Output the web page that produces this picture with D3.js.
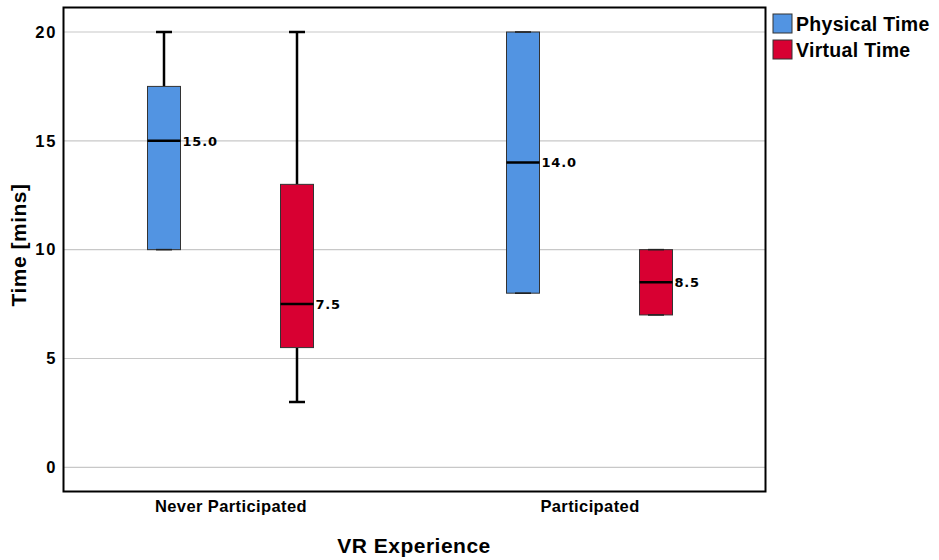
<!DOCTYPE html>
<html><head><meta charset="utf-8">
<script src="https://cdn.jsdelivr.net/npm/d3@7"></script>
<style>body{margin:0;background:#fff}svg{display:block}</style>
</head><body>
<svg id="c" width="939" height="560"></svg>
<script>
const categories = ["Never Participated", "Participated"];
const seriesNames = ["Physical Time", "Virtual Time"];
const seriesColors = ["#5294E2", "#D80032"];
// [whiskerLow, q1, median, q3, whiskerHigh] per category, per series
const physicalStats = [[10, 10, 15, 17.5, 20], [8, 8, 14, 20, 20]];
const virtualStats = [[3, 5.5, 7.5, 13, 20], [7, 7, 8.5, 10, 10]];
const yTicks = [0, 5, 10, 15, 20];
const statsBySeries = [physicalStats, virtualStats];

const svg = d3.select("#c");
const frame = {left: 63.5, right: 765.5, top: 7.5, bottom: 491.5};
const FONT = "Liberation Sans, Arial, Helvetica, sans-serif";

const y = d3.scaleLinear().domain([0, 20]).range([467.3, 32]);
const x = d3.scalePoint().domain(categories).range([230.5, 589.5]);
const xs = d3.scalePoint().domain(seriesNames).range([-66.5, 66.5]);
const boxW = 33, capW = 16;

// gridlines
svg.append("g").selectAll("line").data(yTicks).join("line")
  .attr("x1", frame.left).attr("x2", frame.right)
  .attr("y1", d => y(d)).attr("y2", d => y(d))
  .attr("stroke", "#c8c8c8").attr("stroke-width", 1.2);

// y axis labels via d3 axis
const yAxis = svg.append("g").attr("transform", `translate(${frame.left},0)`)
  .call(d3.axisLeft(y).tickValues(yTicks).tickSize(0).tickPadding(6).tickFormat(d3.format("d")));
yAxis.select(".domain").remove();
yAxis.selectAll("text").attr("font-family", FONT)
  .attr("font-weight", "bold").attr("font-size", 16.5).attr("fill", "#000").attr("letter-spacing", 2);

// x axis labels
const xAxis = svg.append("g").attr("transform", `translate(0,${frame.bottom})`)
  .call(d3.axisBottom(x).tickSize(0).tickPadding(9));
xAxis.select(".domain").remove();
xAxis.selectAll("text").attr("font-family", FONT)
  .attr("font-weight", "bold").attr("font-size", 16.5).attr("fill", "#000").attr("letter-spacing", 0.4);

// boxes
const flat = [];
categories.forEach((c, ci) => seriesNames.forEach((s, si) => {
  const st = statsBySeries[si][ci];
  flat.push({c, s, si, lo: st[0], q1: st[1], med: st[2], q3: st[3], hi: st[4]});
}));
const g = svg.append("g").selectAll("g").data(flat).join("g")
  .attr("transform", d => `translate(${x(d.c) + xs(d.s)},0)`);

g.append("line").attr("x1", 0).attr("x2", 0)
  .attr("y1", d => y(d.hi)).attr("y2", d => y(d.q3)).attr("stroke", "#000").attr("stroke-width", 2.5);
g.append("line").attr("x1", 0).attr("x2", 0)
  .attr("y1", d => y(d.q1)).attr("y2", d => y(d.lo)).attr("stroke", "#000").attr("stroke-width", 2.5);
g.append("rect").attr("x", -boxW / 2).attr("width", boxW)
  .attr("y", d => y(d.q3)).attr("height", d => y(d.q1) - y(d.q3))
  .attr("fill", d => seriesColors[d.si]).attr("stroke", "#333").attr("stroke-width", 1);
g.selectAll(".cap").data(d => [[d.lo, d.lo === d.q1], [d.hi, d.hi === d.q3]]).join("line").attr("class", "cap")
  .attr("x1", -capW / 2).attr("x2", capW / 2)
  .attr("y1", v => y(v[0])).attr("y2", v => y(v[0]))
  .attr("stroke", v => v[1] ? "#222" : "#000").attr("stroke-width", v => v[1] ? 1.6 : 2.5);
g.append("line").attr("x1", -boxW / 2).attr("x2", boxW / 2)
  .attr("y1", d => y(d.med)).attr("y2", d => y(d.med)).attr("stroke", "#000").attr("stroke-width", 2.5);
g.append("text").attr("x", boxW / 2 + 2).attr("y", d => y(d.med)).attr("dy", "0.36em")
  .attr("font-family", "DejaVu Sans, Liberation Sans, sans-serif").attr("font-weight", "bold")
  .attr("font-size", 13).attr("letter-spacing", 0.8).attr("fill", "#000")
  .text(d => d3.format(".1f")(d.med));

// frame
svg.append("rect").attr("x", frame.left).attr("y", frame.top)
  .attr("width", frame.right - frame.left).attr("height", frame.bottom - frame.top)
  .attr("fill", "none").attr("stroke", "#000").attr("stroke-width", 2);

// axis titles
svg.append("text").attr("transform", `translate(26,245) rotate(-90)`)
  .attr("text-anchor", "middle").attr("font-family", FONT)
  .attr("font-weight", "bold").attr("font-size", 21).attr("letter-spacing", 0.5)
  .attr("fill", "#000").text("Time [mins]");
svg.append("text").attr("x", 414).attr("y", 553).attr("text-anchor", "middle")
  .attr("font-family", FONT).attr("letter-spacing", 0.5)
  .attr("font-weight", "bold").attr("font-size", 21).attr("fill", "#000").text("VR Experience");

// legend
const lg = svg.append("g").attr("transform", "translate(773,14)");
const li = lg.selectAll("g").data(seriesNames).join("g").attr("transform", (d, i) => `translate(0,${i * 26})`);
li.append("rect").attr("width", 19).attr("height", 19)
  .attr("fill", (d, i) => seriesColors[i]).attr("stroke", "#333").attr("stroke-width", 1);
li.append("text").attr("x", 23).attr("y", 17).attr("font-family", FONT).attr("letter-spacing", 0.3)
  .attr("font-weight", "bold").attr("font-size", 19.5).attr("fill", "#000").text(d => d);
</script>
</body></html>
